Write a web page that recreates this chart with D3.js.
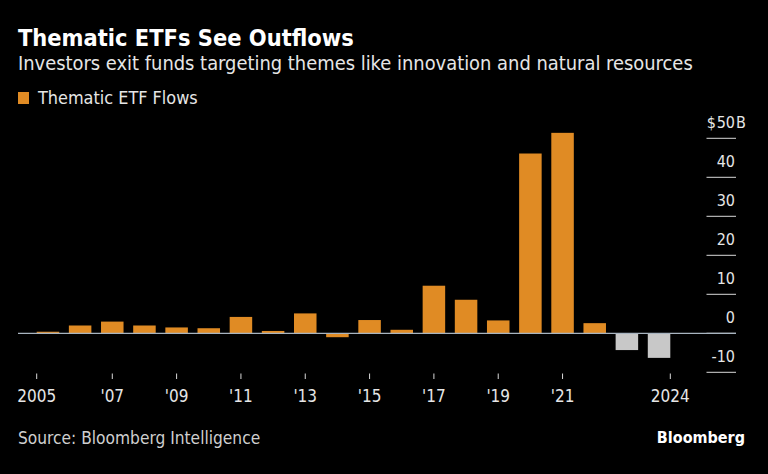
<!DOCTYPE html>
<html>
<head>
<meta charset="utf-8">
<script src="https://cdn.jsdelivr.net/npm/d3@7"></script>
<style>
  html, body { margin: 0; padding: 0; background: #000; }
  svg { display: block; }
  text { font-family: "DejaVu Sans Condensed", "DejaVu Sans", sans-serif; font-stretch: condensed; }
</style>
</head>
<body>
<svg id="chart" width="768" height="474"></svg>
<script>
const years = d3.range(2005, 2025);
const flows = [0.4, 2.0, 3.0, 2.0, 1.5, 1.3, 4.2, 0.6, 5.1, -1.0, 3.4, 0.9, 12.2, 8.6, 3.3, 46.1, 51.4, 2.6, -4.3, -6.3];
const outflowYears = [2023, 2024];
const yTicks = [-10, 0, 10, 20, 30, 40, 50];
const xTickYears = [2005, 2007, 2009, 2011, 2013, 2015, 2017, 2019, 2021, 2024];
const xTickLabel = y => (y === 2005 || y === 2024) ? String(y) : "'" + String(y).slice(2);

const svg = d3.select("#chart");
svg.append("rect").attr("width", 768).attr("height", 474).attr("fill", "#000");

// Titles
svg.append("text").attr("x", 18).attr("y", 46).attr("fill", "#fff")
  .attr("font-size", 23.4).attr("font-weight", "bold").text("Thematic ETFs See Outflows");
svg.append("text").attr("x", 18).attr("y", 70).attr("fill", "#e6e6e6")
  .attr("font-size", 19.9).text("Investors exit funds targeting themes like innovation and natural resources");

// Legend
svg.append("rect").attr("x", 18).attr("y", 92).attr("width", 11).attr("height", 12).attr("fill", "#e08b24");
svg.append("text").attr("x", 38).attr("y", 104).attr("fill", "#e6e6e6")
  .attr("font-size", 17.9).text("Thematic ETF Flows");

// Scales
const x = d3.scaleBand().domain(years).range([36.7, 670.3]).paddingInner(0.3).paddingOuter(0);
const y = d3.scaleLinear().domain([-10, 50]).range([372.3, 138.3]);

// Right-side gridline segments + labels
const grid = svg.append("g");
grid.selectAll("line").data(yTicks).join("line")
  .attr("x1", 706.5).attr("x2", 736)
  .attr("y1", d => y(d)).attr("y2", d => y(d))
  .attr("stroke", "#d9d9d9").attr("stroke-width", 1);
grid.selectAll("text.ylab").data(yTicks).join("text").attr("class", "ylab")
  .attr("x", 735).attr("y", d => y(d) - 10)
  .attr("text-anchor", "end").attr("fill", "#e6e6e6").attr("font-size", 16)
  .text(d => d < 0 ? "-" + Math.abs(d) : d);
svg.append("text").attr("x", 736).attr("y", y(50) - 10).attr("fill", "#e6e6e6")
  .attr("font-size", 16).text("B");
svg.append("text").attr("x", 716).attr("y", y(50) - 10).attr("text-anchor", "end")
  .attr("fill", "#e6e6e6").attr("font-size", 16).text("$");

// Bars
svg.append("g").selectAll("rect").data(years).join("rect")
  .attr("x", d => x(d))
  .attr("width", x.bandwidth())
  .attr("y", (d, i) => y(Math.max(0, flows[i])))
  .attr("height", (d, i) => Math.abs(y(flows[i]) - y(0)))
  .attr("fill", d => outflowYears.includes(d) ? "#c8c8c8" : "#e08b24");

// Zero line
svg.append("line").attr("x1", 18).attr("x2", 736).attr("y1", y(0)).attr("y2", y(0))
  .attr("stroke", "#a8b4c0").attr("stroke-width", 1.2);

// X ticks
const tickX = d => d === 2005 ? x.range()[0] : d === 2024 ? x.range()[1] : x(d) + x.bandwidth() / 2;
const xt = svg.append("g");
xt.selectAll("line").data(xTickYears).join("line")
  .attr("x1", tickX).attr("x2", tickX).attr("y1", 373.5).attr("y2", 379)
  .attr("stroke", "#d9d9d9").attr("stroke-width", 1);
xt.selectAll("text").data(xTickYears).join("text")
  .attr("x", tickX).attr("y", 402).attr("text-anchor", "middle")
  .attr("fill", "#e6e6e6").attr("font-size", 17).text(xTickLabel);

// Footer
svg.append("text").attr("x", 18).attr("y", 444).attr("fill", "#cfcfcf")
  .attr("font-size", 17.2).text("Source: Bloomberg Intelligence");
svg.append("text").attr("x", 745).attr("y", 443).attr("text-anchor", "end").attr("fill", "#fff")
  .attr("font-size", 16).attr("font-weight", "bold").text("Bloomberg");
</script>
</body>
</html>
